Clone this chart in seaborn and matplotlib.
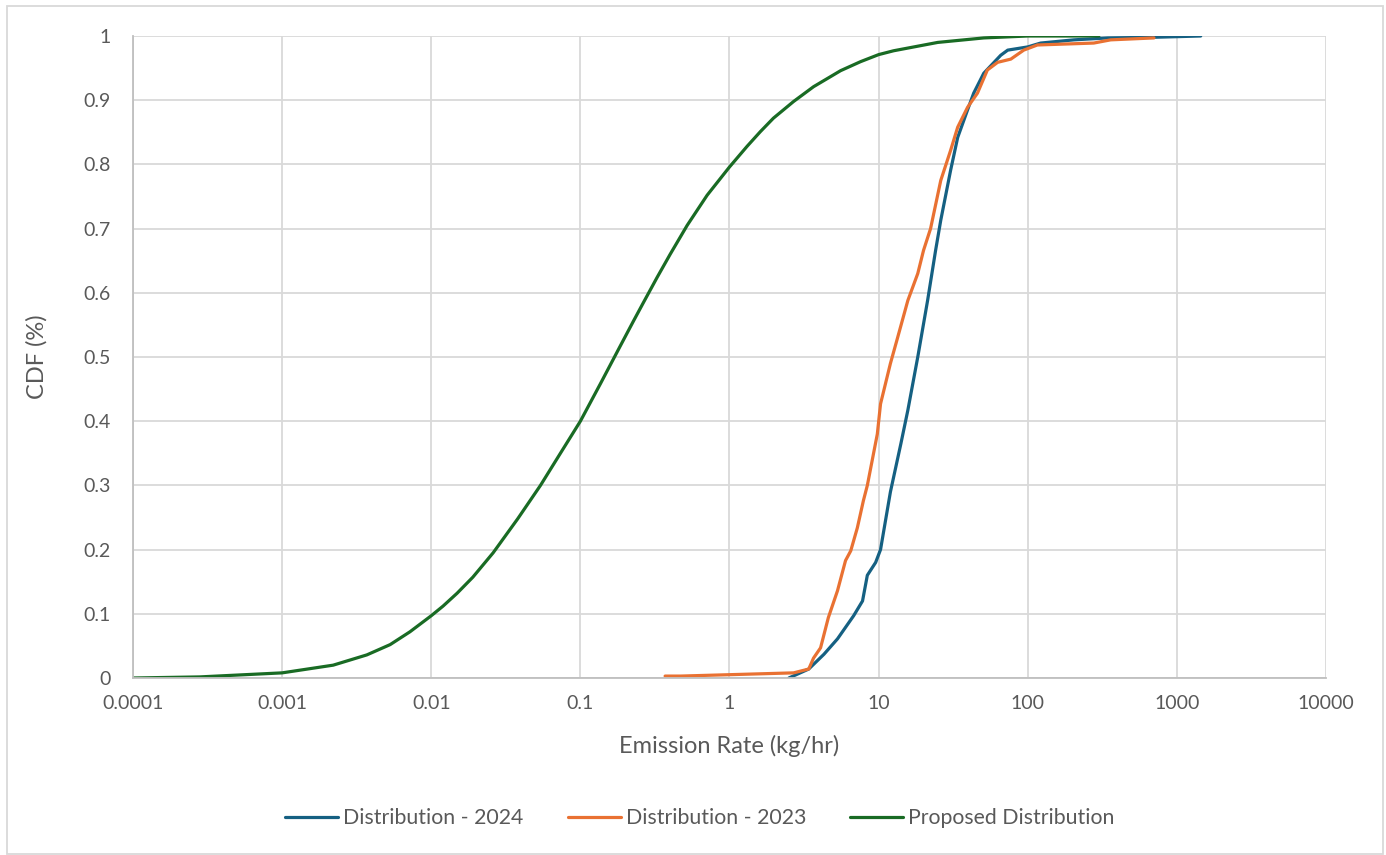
import pandas as pd
import matplotlib
matplotlib.use("Agg")
import matplotlib.pyplot as plt
import seaborn as sns
from matplotlib.ticker import FixedLocator, FixedFormatter, NullLocator


# -------------------------------
# DATA
# -------------------------------
rate_2024 = [2.5, 3.4, 4.3, 5.3, 6.8, 7.8, 8.4, 9.55, 10.3, 12.0, 14.1, 15.7, 18.3,
             21.3, 24.1, 26.1, 30.4, 33.9, 39.5, 43.4, 50.7, 65.9, 73.4, 100,
             122, 204, 344, 702, 1445]
cdf_2024 = [0.0, 0.014, 0.037, 0.061, 0.097, 0.12, 0.16, 0.18, 0.20, 0.29, 0.365,
            0.417, 0.50, 0.588, 0.666, 0.713, 0.791, 0.842, 0.885, 0.911, 0.942,
            0.970, 0.978, 0.983, 0.989, 0.994, 0.997, 0.998, 1.0]

rate_2023 = [0.37, 0.47, 2.69, 3.4, 3.66, 4.08, 4.6, 5.3, 6.0, 6.5, 7.2, 7.9, 8.4,
             9.8, 10.3, 12.0, 13.4, 15.7, 18.3, 20.0, 22.3, 26.1, 30.4, 33.9,
             39.5, 46, 53.6, 62.8, 77, 94, 116, 277, 360, 702]
cdf_2023 = [0.003, 0.003, 0.008, 0.014, 0.031, 0.047, 0.094, 0.136, 0.183, 0.198,
            0.234, 0.276, 0.30, 0.38, 0.427, 0.49, 0.53, 0.588, 0.63, 0.666, 0.70,
            0.775, 0.822, 0.858, 0.889, 0.911, 0.947, 0.959, 0.964, 0.978, 0.986,
            0.989, 0.994, 0.997]

rate_prop = [0.0001, 0.00028, 0.001, 0.0022, 0.0037, 0.0053, 0.0072, 0.01, 0.012,
             0.0149, 0.019, 0.026, 0.038, 0.054, 0.073, 0.1, 0.136, 0.185, 0.227,
             0.265, 0.327, 0.40, 0.52, 0.708, 1.0, 1.31, 1.61, 1.97, 2.69,
             3.66, 5.56, 7.56, 10, 12.6, 24.9, 50.7, 100, 300]
cdf_prop = [0.0, 0.0017, 0.008, 0.020, 0.036, 0.052, 0.072, 0.097, 0.112,
            0.132, 0.157, 0.195, 0.248, 0.30, 0.349, 0.40, 0.458, 0.517, 0.556,
            0.585, 0.624, 0.660, 0.705, 0.752, 0.796, 0.828, 0.851, 0.872,
            0.898, 0.921, 0.946, 0.960, 0.971, 0.977, 0.990, 0.997, 1.0, 1.0]

series_names = ["Distribution - 2024", "Distribution - 2023", "Proposed Distribution"]
series_colors = ["#156082", "#E97132", "#196B24"]

x_ticks = [0.0001, 0.001, 0.01, 0.1, 1, 10, 100, 1000, 10000]
x_labels = ["0.0001", "0.001", "0.01", "0.1", "1", "10", "100", "1000", "10000"]
y_ticks = [0, 0.1, 0.2, 0.3, 0.4, 0.5, 0.6, 0.7, 0.8, 0.9, 1]
y_labels = ["0", "0.1", "0.2", "0.3", "0.4", "0.5", "0.6", "0.7", "0.8", "0.9", "1"]


# -------------------------------
# BUILD LONG TABLE
# -------------------------------
def build_frame():
    parts = []
    for name, xs, ys in zip(series_names,
                            [rate_2024, rate_2023, rate_prop],
                            [cdf_2024, cdf_2023, cdf_prop]):
        parts.append(pd.DataFrame({"rate": xs, "cdf": ys, "series": name}))
    return pd.concat(parts, ignore_index=True)


# -------------------------------
# PLOT
# -------------------------------
def make_plot(df):
    sns.set_style("white")
    plt.rcParams["font.family"] = ["Lato", "DejaVu Sans"]

    fig = plt.figure(figsize=(13.86, 8.55), dpi=100)
    ax = fig.add_axes([133 / 1386, 1 - 678 / 855, (1326 - 133) / 1386, (678 - 36) / 855])

    sns.lineplot(data=df, x="rate", y="cdf", hue="series", hue_order=series_names,
                 palette=series_colors, sort=False, estimator=None, linewidth=2.3, ax=ax)

    ax.set_xscale("log")
    ax.set_xlim(0.0001, 10000)
    ax.set_ylim(0, 1)
    ax.xaxis.set_major_locator(FixedLocator(x_ticks))
    ax.xaxis.set_major_formatter(FixedFormatter(x_labels))
    ax.xaxis.set_minor_locator(NullLocator())
    ax.yaxis.set_major_locator(FixedLocator(y_ticks))
    ax.yaxis.set_major_formatter(FixedFormatter(y_labels))

    ax.grid(True, color="#d9d9d9", linewidth=1.3)
    ax.set_axisbelow(True)
    for side in ["top", "right"]:
        ax.spines[side].set_visible(False)
    for side in ["left", "bottom"]:
        ax.spines[side].set_color("#bfbfbf")
        ax.spines[side].set_linewidth(1.3)

    ax.tick_params(axis="both", length=0, labelsize=14, labelcolor="#595959")
    ax.tick_params(axis="x", pad=12)
    ax.tick_params(axis="y", pad=16)

    ax.set_xlabel("Emission Rate (kg/hr)", fontsize=17, color="#595959", labelpad=17)
    ax.set_ylabel("CDF (%)", fontsize=17, color="#595959", labelpad=26)

    ax.legend_.remove()
    handles, labels = ax.get_legend_handles_labels()
    fig.legend(handles, labels, loc="center", bbox_to_anchor=(700 / 1386, 1 - 818 / 855),
               ncol=3, frameon=False, fontsize=15.3, labelcolor="#595959",
               handlelength=2.5, handletextpad=0.24, columnspacing=2.07)

    # outer chart border
    fig.patches.append(plt.Rectangle((7 / 1386, 0.001), (1383 - 7) / 1386, 1 - 6 / 855 - 0.001,
                                     transform=fig.transFigure, fill=False,
                                     edgecolor="#d9d9d9", linewidth=1.3))

    fig.savefig("out.png", dpi=100)


if __name__ == "__main__":
    make_plot(build_frame())
